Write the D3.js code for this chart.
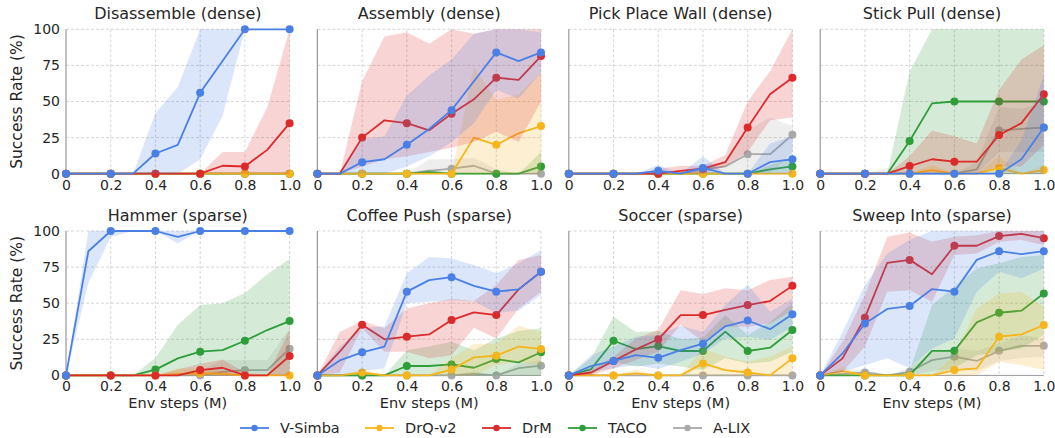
<!DOCTYPE html>
<html>
<head>
<meta charset="utf-8">
<script src="https://cdn.jsdelivr.net/npm/d3@7"></script>
<style>
  body { margin: 0; background: #fff; }
  svg { display: block; }
  text { font-family: "DejaVu Sans", sans-serif; fill: #262626; }
</style>
</head>
<body>
<svg id="chart" width="1055" height="438"></svg>
<script>
// Environment steps (millions) at which every run was evaluated
const steps = [0, 0.1, 0.2, 0.3, 0.4, 0.5, 0.6, 0.7, 0.8, 0.9, 1.0];
const markerSteps = [0, 0.2, 0.4, 0.6, 0.8, 1.0];

const taskTitles = [
  "Disassemble (dense)", "Assembly (dense)", "Pick Place Wall (dense)", "Stick Pull (dense)",
  "Hammer (sparse)", "Coffee Push (sparse)", "Soccer (sparse)", "Sweep Into (sparse)"
];
const xTickValues = [0, 0.2, 0.4, 0.6, 0.8, 1.0];
const xTickLabels = ["0", "0.2", "0.4", "0.6", "0.8", "1.0"];
const yTickValues = [0, 25, 50, 75, 100];

const methodNames = ["V-Simba", "DrQ-v2", "DrM", "TACO", "A-LIX"];
const methodColors = ["#4a80e6", "#f5b51c", "#dc2a2a", "#2e9d3a", "#a9a9a9"];

// Success rate (%) per task (rows) and step (columns): mean and shaded range
const vSimbaMean = [
  [0, 0, 0, 0, 14, 20, 56, 78, 100, 100, 100],
  [0, 0, 8, 10, 20, 31, 44, 64, 84, 78, 84],
  [0, 0, 0, 0, 2, 0, 4, 0, 0, 8, 10],
  [0, 0, 0, 0, 0, 0, 0, 0, 0, 10, 32],
  [0, 86, 100, 100, 100, 96, 100, 100, 100, 100, 100],
  [0, 10.4, 16, 20, 58, 66, 68, 62, 58, 59.6, 71.8],
  [0, 6.5, 10, 14, 12.2, 17.5, 22, 34, 38, 32, 42.3],
  [0, 15.2, 36, 46, 48, 59.8, 58, 80, 86, 84, 86]
];
const vSimbaLow = [
  [0, 0, 0, 0, 0, 0, 10, 40, 100, 100, 100],
  [0, 0, 0, 0, 5, 12, 22, 35, 58, 52, 70],
  [0, 0, 0, 0, 0, 0, 0, 0, 0, 0, 0],
  [0, 0, 0, 0, 0, 0, 0, 0, 0, 0, 0],
  [0, 64, 96, 100, 100, 91.5, 100, 100, 100, 100, 100],
  [0, 0, 3, 5, 50, 51, 52, 51.5, 43, 45, 55.6],
  [0, 2.5, 5, 7, 4.4, 9.5, 15, 25.6, 26.8, 24.5, 33.7],
  [0, 2.5, 7, 11.8, 5, 18.7, 25.6, 58, 71.8, 67.2, 74]
];
const vSimbaHigh = [
  [0, 0, 0, 0, 42, 60, 100, 100, 100, 100, 100],
  [0, 0, 24, 26, 54, 68, 79, 97, 100, 100, 98],
  [0, 0, 0, 0, 6, 0, 12, 0, 0, 21, 26],
  [0, 0, 0, 0, 0, 0, 0, 0, 0, 23, 68],
  [0, 100, 100, 100, 100, 100, 100, 100, 100, 100, 100],
  [0, 20, 32.6, 34, 70.7, 82, 81, 76.4, 70.7, 77.6, 86.8],
  [0, 14, 20, 26.8, 28, 34.4, 30, 48.7, 63, 44, 53],
  [0, 30, 62.6, 84.5, 94, 100, 100, 100, 100, 100, 100]
];

const drqMean = [
  [0, 0, 0, 0, 0, 0, 0, 0, 0, 0, 0],
  [0, 0, 0, 0, 0, 0, 0, 25, 20, 28, 33],
  [0, 0, 0, 0, 0, 0, 0, 0, 0, 0, 0],
  [0, 0, 0, 0, 0, 2.5, 0, 0, 4, 0, 2.5],
  [0, 0, 0, 0, 0, 1, 1.5, 1, 0, 0, 0],
  [0, 0, 2, 0, 0, 0, 4, 12.5, 13.6, 20, 18.3],
  [0, 0, 0, 1.4, 0, 0, 8.3, 3.7, 2, 0, 11.8],
  [0, 3, 0, 0, 0, 0, 3.7, 4.8, 26.8, 28.4, 34.9]
];
const drqLow = [
  [0, 0, 0, 0, 0, 0, 0, 0, 0, 0, 0],
  [0, 0, 0, 0, 0, 0, 0, 0, 0, 0, 0],
  [0, 0, 0, 0, 0, 0, 0, 0, 0, 0, 0],
  [0, 0, 0, 0, 0, 0, 0, 0, 0, 0, 0],
  [0, 0, 0, 0, 0, 0, 0, 0, 0, 0, 0],
  [0, 0, 0, 0, 0, 0, 0, 0, 7, 9.5, 7],
  [0, 0, 0, 0, 0, 0, 0, 0, 0, 0, 0],
  [0, 0, 0, 0, 0, 0, 0, 0, 9.5, 7, 3.7]
];
const drqHigh = [
  [0, 0, 0, 0, 0, 0, 0, 0, 0, 0, 0],
  [0, 0, 0, 0, 0, 0, 0, 74, 51, 55, 70],
  [0, 0, 0, 0, 0, 0, 0, 0, 0, 0, 0],
  [0, 0, 0, 0, 0, 6, 0, 0, 12, 0, 6],
  [0, 0, 0, 0, 0, 5, 5, 3, 0, 0, 0],
  [0, 0, 4, 0, 0, 0, 11.8, 22, 22, 34.4, 30],
  [0, 0, 0, 4, 0, 0, 18.7, 13, 9.5, 13, 20],
  [0, 6, 0, 0, 0, 0, 14, 46.4, 56.8, 58, 47.6]
];

const drmMean = [
  [0, 0, 0, 0, 0, 0, 0, 5.5, 5, 16.5, 35],
  [0, 0, 25, 37, 35, 30, 41.5, 51.5, 66.5, 65, 81.5],
  [0, 0, 0, 0, 0, 2, 3.5, 8, 32, 55, 66.5],
  [0, 0, 0, 0, 5.3, 10, 8.3, 8.3, 26.8, 35, 55],
  [0, 0, 0, 0, 0, 0, 3.7, 5.3, 0, 0, 13.4],
  [0, 16.4, 35, 25, 26.8, 28.4, 38.3, 43.6, 41.8, 59.6, 71.8],
  [0, 2, 10, 18, 25, 41.8, 41.8, 45.3, 48.7, 51.5, 62],
  [0, 11.8, 40, 78, 80, 70, 89.8, 89.8, 96.5, 98, 95]
];
const drmLow = [
  [0, 0, 0, 0, 0, 0, 0, 0, 0, 0, 0],
  [0, 0, 5, 10, 12, 15, 18, 22, 29, 22, 50],
  [0, 0, 0, 0, 0, 0, 0, 5, 15, 37, 39],
  [0, 0, 0, 0, 0, 0, 0, 0, 5, 5, 20],
  [0, 0, 0, 0, 0, 0, 0, 0, 0, 0, 0],
  [0, 2, 32.6, 16.4, 16.4, 11.8, 14, 33, 25.6, 46.4, 58],
  [0, 0, 5, 10.6, 16.4, 35, 23.3, 33.7, 33.7, 36, 45],
  [0, 2.5, 20, 58, 59, 51, 83.4, 84.5, 92.6, 93.8, 90.3]
];
const drmHigh = [
  [0, 0, 0, 0, 0, 0, 0, 15, 15, 46, 100],
  [0, 0, 64, 95, 98, 90, 100, 97, 100, 100, 100],
  [0, 0, 0, 0, 3.5, 5.5, 5.5, 13, 50, 71, 100],
  [0, 0, 0, 0, 12, 30, 26, 21, 58, 79, 89],
  [0, 0, 0, 0, 0, 4, 8, 11, 2, 0, 31.4],
  [0, 30, 37.6, 32.6, 46.4, 50, 53, 51.5, 62.6, 80, 83.4],
  [0, 4, 13, 25.6, 31.4, 59, 56.4, 60.3, 59, 66, 68.4],
  [0, 23.3, 55.7, 96, 99, 92.6, 96, 97, 100, 100, 100]
];

const tacoMean = [
  [0, 0, 0, 0, 0, 0, 0, 0, 0, 0, 0],
  [0, 0, 0, 0, 0, 1, 0, 0, 0, 0, 5],
  [0, 0, 0, 0, 0, 0, 0, 0, 0, 3, 5],
  [0, 0, 0, 0, 22.6, 48.7, 50, 50, 50, 50, 50],
  [0, 0, 0, 0, 4, 11.8, 16.4, 17.5, 24, 31.4, 37.6],
  [0, 0, 0, 0, 6.5, 6.5, 7.6, 5.3, 11.3, 9, 16],
  [0, 4.4, 24, 18.2, 20.3, 16.9, 16.9, 30.3, 16.9, 19.2, 31.4],
  [0, 0, 0, 0, 0, 17, 17, 36.7, 43.4, 44.8, 56.8]
];
const tacoLow = [
  [0, 0, 0, 0, 0, 0, 0, 0, 0, 0, 0],
  [0, 0, 0, 0, 0, 0, 0, 0, 0, 0, 0],
  [0, 0, 0, 0, 0, 0, 0, 0, 0, 0, 0],
  [0, 0, 0, 0, 0, 0, 0, 0, 0, 0, 0],
  [0, 0, 0, 0, 0, 0, 0, 0, 0, 0, 0],
  [0, 0, 0, 0, 0, 0, 0, 0, 0, 0, 0],
  [0, 0, 9.5, 6, 8.3, 6, 3.7, 11.8, 8.3, 9.5, 16.4],
  [0, 0, 0, 0, 0, 0, 5, 14, 16.4, 18.7, 28]
];
const tacoHigh = [
  [0, 0, 0, 0, 0, 0, 0, 0, 0, 0, 0],
  [0, 0, 0, 0, 0, 3, 0, 0, 0, 0, 15],
  [0, 0, 0, 0, 0, 0, 0, 0, 0, 6, 10],
  [0, 0, 0, 0, 70.7, 100, 100, 100, 100, 100, 100],
  [0, 0, 0, 0, 12, 35, 48.7, 50, 57, 70, 80.6],
  [0, 0, 0, 0, 17.5, 20, 23.3, 17.5, 25.6, 30.7, 32.6],
  [0, 12, 40.6, 30, 30.7, 25, 26, 41.8, 28, 37, 50],
  [0, 0, 0, 0, 3, 48.7, 61.4, 74, 77.6, 82, 83.4]
];

const alixMean = [
  [0, 0, 0, 0, 0, 0, 0, 0, 0, 0, 0],
  [0, 0, 0, 0, 0, 2, 3.5, 5.5, 0, 0, 0],
  [0, 0, 0, 0, 0, 0, 3, 5, 13.5, 13.5, 27],
  [0, 0, 0, 0, 0, 0, 0, 3, 30, 31, 32],
  [0, 0, 0, 0, 0, 0, 0, 2.5, 3.7, 3.7, 18.5],
  [0, 0, 0, 0, 0, 0, 0, 1, 0, 5, 6.7],
  [0, 0, 0, 0, 0, 0, 0, 0, 0, 0, 0],
  [0, 1, 2, 0, 2.5, 10.6, 13, 10, 17, 20.5, 20.5]
];
const alixLow = [
  [0, 0, 0, 0, 0, 0, 0, 0, 0, 0, 0],
  [0, 0, 0, 0, 0, 0, 0, 0, 0, 0, 0],
  [0, 0, 0, 0, 0, 0, 0, 0, 0, 0, 15],
  [0, 0, 0, 0, 0, 0, 0, 0, 15, 15, 15],
  [0, 0, 0, 0, 0, 0, 0, 0, 0, 0, 0],
  [0, 0, 0, 0, 0, 0, 0, 0, 0, 0, 0],
  [0, 0, 0, 0, 0, 0, 0, 0, 0, 0, 0],
  [0, 0, 0, 0, 0, 3, 5, 3, 10, 12, 13]
];
const alixHigh = [
  [0, 0, 0, 0, 0, 0, 0, 0, 0, 0, 0],
  [0, 0, 0, 0, 0, 10, 10, 11, 3, 0, 0],
  [0, 0, 0, 0, 0, 0, 6, 8, 30, 39, 33],
  [0, 0, 0, 4, 0, 0, 0, 8, 46, 45, 49],
  [0, 0, 0, 0, 0, 0, 3, 10.6, 10.6, 10.6, 32.5],
  [0, 0, 0, 0, 0, 0, 0, 3, 0, 8, 11],
  [0, 0, 0, 0, 0, 0, 0, 0, 0, 0, 0],
  [0, 3, 4, 0, 5, 16.4, 18.7, 17, 22, 28, 25.6]
];

// Series in drawing order (bottom to top); index points into methodNames/methodColors
const drawOrder = [
  { method: 4, mean: alixMean, low: alixLow, high: alixHigh },
  { method: 3, mean: tacoMean, low: tacoLow, high: tacoHigh },
  { method: 1, mean: drqMean, low: drqLow, high: drqHigh },
  { method: 2, mean: drmMean, low: drmLow, high: drmHigh },
  { method: 0, mean: vSimbaMean, low: vSimbaLow, high: vSimbaHigh }
];

// ---- layout ----
const panelLeft = 66, panelStep = 251.4, panelW = 223.6;
const rowTops = [29.3, 231], panelH = 144.4;

const svg = d3.select("#chart");

taskTitles.forEach((title, t) => {
  const col = t % 4, row = Math.floor(t / 4);
  const x0 = panelLeft + col * panelStep, y0 = rowTops[row];
  const g = svg.append("g").attr("transform", `translate(${x0},${y0})`);

  const x = d3.scaleLinear().domain([0, 1]).range([0, panelW]);
  const y = d3.scaleLinear().domain([0, 100]).range([panelH, 0]);

  // dashed grid
  const grid = g.append("g").attr("stroke", "#cccccc").attr("stroke-width", 0.8)
    .attr("stroke-dasharray", "3,2");
  xTickValues.filter(v => v > 0).forEach(v => {
    grid.append("line").attr("x1", x(v)).attr("x2", x(v)).attr("y1", 0).attr("y2", panelH);
  });
  yTickValues.filter(v => v > 0).forEach(v => {
    grid.append("line").attr("x1", 0).attr("x2", panelW).attr("y1", y(v)).attr("y2", y(v));
  });

  // spines
  g.append("line").attr("x1", 0).attr("x2", 0).attr("y1", 0).attr("y2", panelH)
    .attr("stroke", "#999").attr("stroke-width", 1.2);
  g.append("line").attr("x1", 0).attr("x2", panelW).attr("y1", panelH).attr("y2", panelH)
    .attr("stroke", "#999").attr("stroke-width", 1);

  const area = d3.area()
    .x((d, i) => x(steps[i]))
    .y0(d => y(d[0]))
    .y1(d => y(d[1]));
  const line = d3.line().x((d, i) => x(steps[i])).y(d => y(d));

  drawOrder.forEach(s => {
    const color = methodColors[s.method];
    const band = steps.map((_, i) => [s.low[t][i], s.high[t][i]]);
    g.append("path").datum(band).attr("d", area)
      .attr("fill", color).attr("fill-opacity", 0.2).attr("stroke", "none");
    g.append("path").datum(s.mean[t]).attr("d", line)
      .attr("fill", "none").attr("stroke", color).attr("stroke-width", 1.8)
      .attr("stroke-linejoin", "round");
    g.selectAll(null).data(markerSteps).enter().append("circle")
      .attr("cx", d => x(d))
      .attr("cy", d => y(s.mean[t][Math.round(d * 10)]))
      .attr("r", 4)
      .attr("fill", color);
  });

  // x axis labels
  const xAxis = d3.axisBottom(x).tickValues(xTickValues)
    .tickFormat((d, i) => xTickLabels[i]).tickSize(0).tickPadding(6);
  const xa = g.append("g").attr("transform", `translate(0,${panelH})`).call(xAxis);
  xa.select(".domain").remove();
  xa.selectAll("text").attr("font-size", 14).attr("font-family", "DejaVu Sans").attr("fill", "#262626");

  // y axis labels on the first column only
  if (col === 0) {
    const yAxis = d3.axisLeft(y).tickValues(yTickValues).tickSize(0).tickPadding(6);
    const ya = g.append("g").call(yAxis);
    ya.select(".domain").remove();
    ya.selectAll("text").attr("font-size", 14).attr("font-family", "DejaVu Sans").attr("fill", "#262626");
    g.append("text")
      .attr("transform", `translate(${17 - x0},${panelH / 2}) rotate(-90)`)
      .attr("text-anchor", "middle").attr("dy", "0.35em")
      .attr("font-size", 15.5)
      .text("Success Rate (%)");
  }

  // title
  g.append("text").attr("x", panelW / 2).attr("y", -10.5)
    .attr("text-anchor", "middle").attr("font-size", 16).text(title);

  // x axis title on the bottom row
  if (row === 1) {
    g.append("text").attr("x", panelW / 2).attr("y", panelH + 32.5)
      .attr("text-anchor", "middle").attr("font-size", 14.5).text("Env steps (M)");
  }
});

// legend
const legendStarts = [240, 365, 482, 568, 673];
const legendY = 428;
methodNames.forEach((name, i) => {
  const lx = legendStarts[i];
  const lg = svg.append("g");
  lg.append("line").attr("x1", lx).attr("x2", lx + 29).attr("y1", legendY).attr("y2", legendY)
    .attr("stroke", methodColors[i]).attr("stroke-width", 1.8);
  lg.append("circle").attr("cx", lx + 14.5).attr("cy", legendY).attr("r", 3.2).attr("fill", methodColors[i]);
  lg.append("text").attr("x", lx + 40).attr("y", legendY).attr("dy", "0.35em")
    .attr("font-size", 14.5).text(name);
});
</script>
</body>
</html>
